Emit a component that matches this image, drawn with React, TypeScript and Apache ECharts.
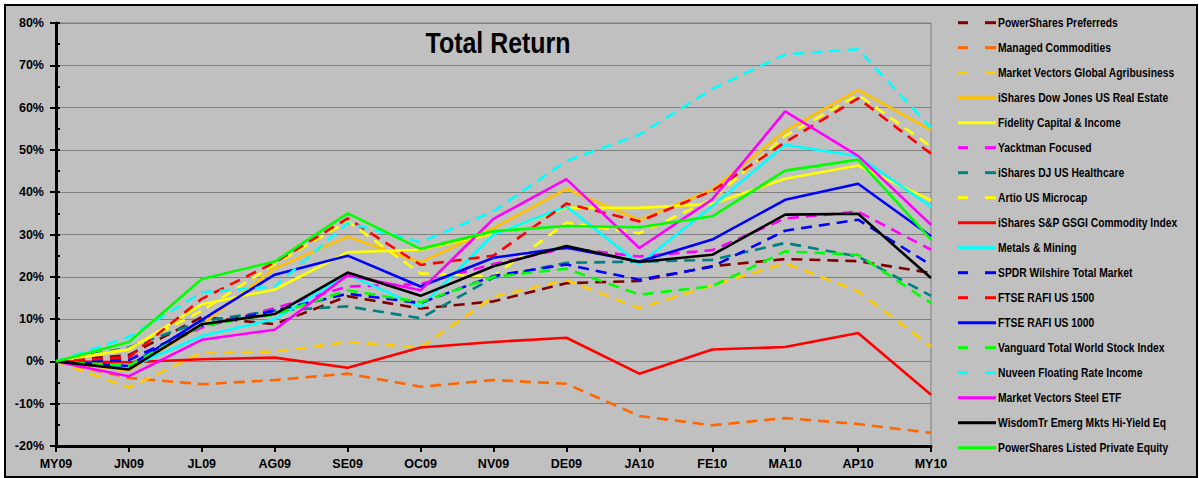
import React, { useEffect, useRef } from 'react';
import * as echarts from 'echarts';

const months = ['MY09', 'JN09', 'JL09', 'AG09', 'SE09', 'OC09', 'NV09', 'DE09', 'JA10', 'FE10', 'MA10', 'AP10', 'MY10'];

const preferreds = [0, 1.5, 10.5, 8.8, 15.4, 12.5, 14.2, 18.5, 19.0, 22.5, 24.2, 23.7, 20.9];
const managedCommodities = [0, -3.9, -5.4, -4.4, -2.9, -6.0, -4.4, -5.3, -12.9, -15.1, -13.4, -14.8, -16.9];
const agribusiness = [0, -6.2, 2.1, 2.3, 4.6, 3.3, 15.3, 19.2, 12.6, 18.0, 23.2, 16.6, 3.5];
const realEstate = [0, -2.2, 8.7, 22.0, 29.5, 23.4, 31.5, 40.8, 33.4, 40.6, 54.5, 64.2, 54.7];
const fidelity = [0, 2.8, 13.5, 17.0, 25.8, 26.4, 30.2, 36.3, 36.3, 37.2, 43.2, 46.3, 38.1];
const yacktman = [0, 0.5, 8.0, 12.6, 17.7, 18.3, 23.0, 26.8, 24.8, 26.3, 33.8, 35.4, 26.4];
const healthcare = [0, 3.3, 9.5, 12.0, 13.0, 10.2, 19.8, 23.3, 23.6, 24.0, 28.0, 24.8, 15.5];
const artio = [0, 3.0, 12.0, 23.0, 33.1, 20.8, 20.1, 32.8, 30.3, 38.3, 53.3, 63.0, 50.8];
const gsci = [0, -0.2, 0.5, 0.9, -1.5, 3.3, 4.6, 5.6, -2.9, 2.8, 3.4, 6.7, -7.9];
const metals = [0, -1.5, 6.0, 10.0, 20.5, 12.9, 30.0, 36.6, 23.0, 36.7, 51.2, 48.5, 36.6];
const spdr = [0, 0.3, 8.5, 12.0, 16.0, 13.8, 20.2, 22.9, 19.3, 22.4, 30.9, 33.5, 22.8];
const rafi1500 = [0, 1.0, 14.8, 23.4, 33.8, 22.8, 25.0, 37.3, 33.1, 40.3, 51.8, 62.2, 49.1];
const rafi1000 = [0, -1.1, 9.8, 20.5, 25.0, 17.7, 24.5, 26.9, 23.6, 28.8, 38.2, 42.0, 29.6];
const vanguard = [0, -1.0, 8.5, 11.1, 16.8, 14.0, 20.0, 21.9, 15.8, 17.8, 26.0, 25.2, 13.8];
const nuveen = [0, 5.8, 16.3, 17.7, 32.7, 28.2, 35.5, 47.4, 53.6, 64.4, 72.6, 73.8, 55.2];
const steel = [0, -3.5, 5.1, 7.5, 20.4, 16.8, 33.7, 43.1, 26.8, 38.3, 59.1, 48.6, 32.3];
const wisdomTree = [0, -1.9, 8.8, 11.2, 21.0, 15.5, 22.5, 27.3, 23.5, 25.2, 34.7, 34.9, 19.7];
const privateEquity = [0, 4.6, 19.5, 23.6, 35.0, 26.6, 30.8, 32.0, 31.7, 34.3, 45.1, 47.7, 28.8];

const seriesDefs: { name: string; data: number[]; color: string; dashed: boolean }[] = [
  { name: 'PowerShares Preferreds', data: preferreds, color: '#800000', dashed: true },
  { name: 'Managed Commodities', data: managedCommodities, color: '#FF6600', dashed: true },
  { name: 'Market Vectors Global Agribusiness', data: agribusiness, color: '#FFCC00', dashed: true },
  { name: 'iShares Dow Jones US Real Estate', data: realEstate, color: '#FFC000', dashed: false },
  { name: 'Fidelity Capital & Income', data: fidelity, color: '#FFFF00', dashed: false },
  { name: 'Yacktman Focused', data: yacktman, color: '#FF00FF', dashed: true },
  { name: 'iShares DJ US Healthcare', data: healthcare, color: '#008080', dashed: true },
  { name: 'Artio US Microcap', data: artio, color: '#FFFF00', dashed: true },
  { name: 'iShares S&P GSGI Commodity Index', data: gsci, color: '#FF0000', dashed: false },
  { name: 'Metals & Mining', data: metals, color: '#00FFFF', dashed: false },
  { name: 'SPDR Wilshire Total Market', data: spdr, color: '#0000FF', dashed: true },
  { name: 'FTSE RAFI US 1500', data: rafi1500, color: '#FF0000', dashed: true },
  { name: 'FTSE RAFI US 1000', data: rafi1000, color: '#0000FF', dashed: false },
  { name: 'Vanguard Total World Stock Index', data: vanguard, color: '#00FF00', dashed: true },
  { name: 'Nuveen Floating Rate Income', data: nuveen, color: '#00FFFF', dashed: true },
  { name: 'Market Vectors Steel ETF', data: steel, color: '#FF00FF', dashed: false },
  { name: 'WisdomTr Emerg Mkts Hi-Yield Eq', data: wisdomTree, color: '#000000', dashed: false },
  { name: 'PowerShares Listed Private Equity', data: privateEquity, color: '#00FF00', dashed: false },
];

const FONT = "'Liberation Sans', Arial, sans-serif";

export default function App() {
  const ref = useRef<HTMLDivElement>(null);
  useEffect(() => {
    document.body.style.margin = '0';
    const chart = echarts.init(ref.current!, null, { renderer: 'svg' });
    const axisLabelStyle = { fontFamily: FONT, fontWeight: 'bold', fontSize: 12.5, color: '#000' };

    const legendElems: any[] = [];
    seriesDefs.forEach((s, i) => {
      const y = 22.7 + 25 * i;
      if (s.dashed) {
        legendElems.push({ type: 'line', z: 20, shape: { x1: 958, y1: y, x2: 968, y2: y }, style: { stroke: s.color, lineWidth: 3 } });
        legendElems.push({ type: 'line', z: 20, shape: { x1: 985, y1: y, x2: 996, y2: y }, style: { stroke: s.color, lineWidth: 3 } });
      } else {
        legendElems.push({ type: 'line', z: 20, shape: { x1: 958, y1: y, x2: 996, y2: y }, style: { stroke: s.color, lineWidth: 3 } });
      }
      legendElems.push({
        type: 'text',
        z: 20,
        x: 998,
        y: y + 0.5,
        scaleX: 0.86,
        style: {
          text: s.name,
          fontFamily: FONT,
          fontWeight: 'bold',
          fontSize: 12,
          fill: '#000',
          textAlign: 'left',
          textVerticalAlign: 'middle',
        },
      });
    });

    chart.setOption({
      animation: false,
      backgroundColor: '#ffffff',
      graphic: [
        {
          type: 'rect',
          z: -10,
          shape: { x: 5, y: 5, width: 1192, height: 472 },
          style: { fill: '#C0C0C0', stroke: '#000', lineWidth: 2 },
        },
        {
          type: 'text',
          z: 10,
          x: 498,
          y: 43,
          scaleX: 0.86,
          style: {
            text: 'Total Return',
            fontFamily: FONT,
            fontWeight: 'bold',
            fontSize: 29,
            fill: '#000',
            textAlign: 'center',
            textVerticalAlign: 'middle',
          },
        },
        ...legendElems,
      ],
      grid: {
        left: 56,
        right: 268,
        top: 23,
        bottom: 32,
        show: true,
        borderColor: '#808080',
        borderWidth: 1,
        backgroundColor: 'transparent',
      },
      xAxis: {
        type: 'category',
        data: months,
        boundaryGap: false,
        axisLine: { onZero: false, lineStyle: { color: '#000', width: 3 } },
        axisTick: { show: true, length: 6, lineStyle: { color: '#000', width: 2 } },
        axisLabel: { ...axisLabelStyle, margin: 11 },
        splitLine: { show: false },
      },
      yAxis: [
        {
          type: 'value',
          min: -20,
          max: 80,
          interval: 10,
          axisLine: { show: true, lineStyle: { color: '#000', width: 3 } },
          axisTick: { show: true, inside: true, length: 4, lineStyle: { color: '#000', width: 2 } },
          minorTick: { show: true, splitNumber: 2, length: 4, lineStyle: { color: '#000', width: 2 } },
          axisLabel: { ...axisLabelStyle, margin: 12, formatter: '{value}%' },
          splitLine: { show: true, lineStyle: { color: '#808080', width: 1 } },
        },
        {
          type: 'value',
          min: -20,
          max: 80,
          interval: 10,
          position: 'left',
          axisLine: { show: false },
          axisTick: { show: true, length: 6, lineStyle: { color: '#000', width: 2 } },
          axisLabel: { show: false },
          splitLine: { show: false },
        },
      ],
      series: seriesDefs.map((s) => ({
        name: s.name,
        type: 'line',
        data: s.data,
        yAxisIndex: 0,
        symbol: 'none',
        showSymbol: false,
        color: s.color,
        lineStyle: { color: s.color, width: 2.6, type: s.dashed ? [11, 7] : 'solid' },
        emphasis: { disabled: true },
      })),
    });
    return () => chart.dispose();
  }, []);
  return <div ref={ref} style={{ width: 1199, height: 478 }} />;
}
